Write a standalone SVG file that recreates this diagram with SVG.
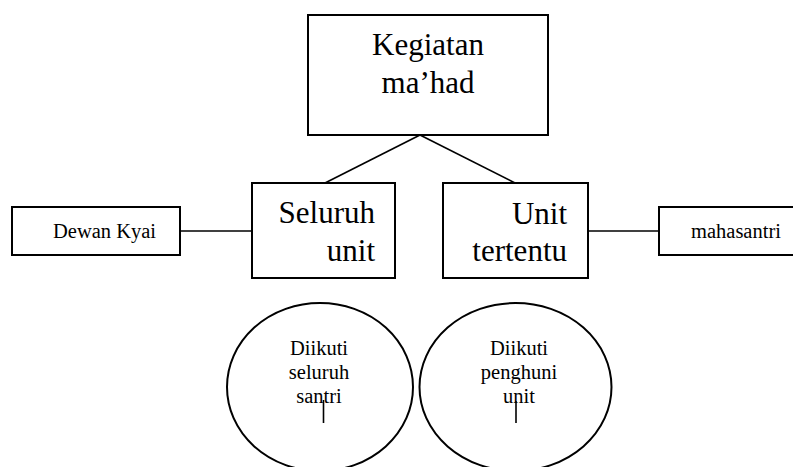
<svg xmlns="http://www.w3.org/2000/svg" width="793" height="467" viewBox="0 0 793 467">
<style>
.box{fill:#fff;stroke:#000;stroke-width:2}
.ell{fill:#fff;stroke:#000;stroke-width:2}
.con{stroke:#000;stroke-width:1.6;fill:none}
.big{font-family:"Liberation Serif","Times New Roman",serif;font-size:31px;fill:#000}
.sm{font-family:"Liberation Serif","Times New Roman",serif;font-size:20.5px;fill:#000}
</style>
<rect width="793" height="467" fill="#fff"/>
<g id="connectors">
<line class="con" x1="420" y1="135" x2="325" y2="183"/>
<line class="con" x1="420" y1="135" x2="515" y2="183"/>
<line class="con" x1="180" y1="231" x2="252" y2="231"/>
<line class="con" x1="588" y1="231" x2="659" y2="231"/>
</g>
<g id="kegiatan">
<rect class="box" x="308" y="15" width="240" height="120"/>
<text class="big" x="428" y="55" text-anchor="middle">Kegiatan</text>
<text class="big" x="428" y="93" text-anchor="middle">ma’had</text>
</g>
<g id="seluruh">
<rect class="box" x="252" y="183" width="143" height="95"/>
<text class="big" x="375" y="223" text-anchor="end">Seluruh</text>
<text class="big" x="375" y="261" text-anchor="end">unit</text>
</g>
<g id="unit">
<rect class="box" x="443" y="183" width="145" height="95"/>
<text class="big" x="567" y="224" text-anchor="end">Unit</text>
<text class="big" x="567" y="261" text-anchor="end">tertentu</text>
</g>
<g id="dewan">
<rect class="box" x="12" y="207" width="168" height="48"/>
<text class="sm" x="53" y="238">Dewan Kyai</text>
</g>
<g id="mahasantri">
<rect class="box" x="659" y="207" width="140" height="48"/>
<text class="sm" x="691" y="238">mahasantri</text>
</g>
<g id="ellipse-seluruh">
<ellipse class="ell" cx="320" cy="387" rx="93" ry="84"/>
<text class="sm" x="319" y="355" text-anchor="middle">Diikuti</text>
<text class="sm" x="319" y="379" text-anchor="middle">seluruh</text>
<text class="sm" x="319" y="403" text-anchor="middle">santri</text>
<line class="con" x1="323.5" y1="400" x2="323.5" y2="423"/>
</g>
<g id="ellipse-unit">
<ellipse class="ell" cx="515.5" cy="387" rx="96" ry="84"/>
<text class="sm" x="519" y="355" text-anchor="middle">Diikuti</text>
<text class="sm" x="519" y="379" text-anchor="middle">penghuni</text>
<text class="sm" x="519" y="403" text-anchor="middle">unit</text>
<line class="con" x1="516" y1="401" x2="516" y2="423"/>
</g>
</svg>
